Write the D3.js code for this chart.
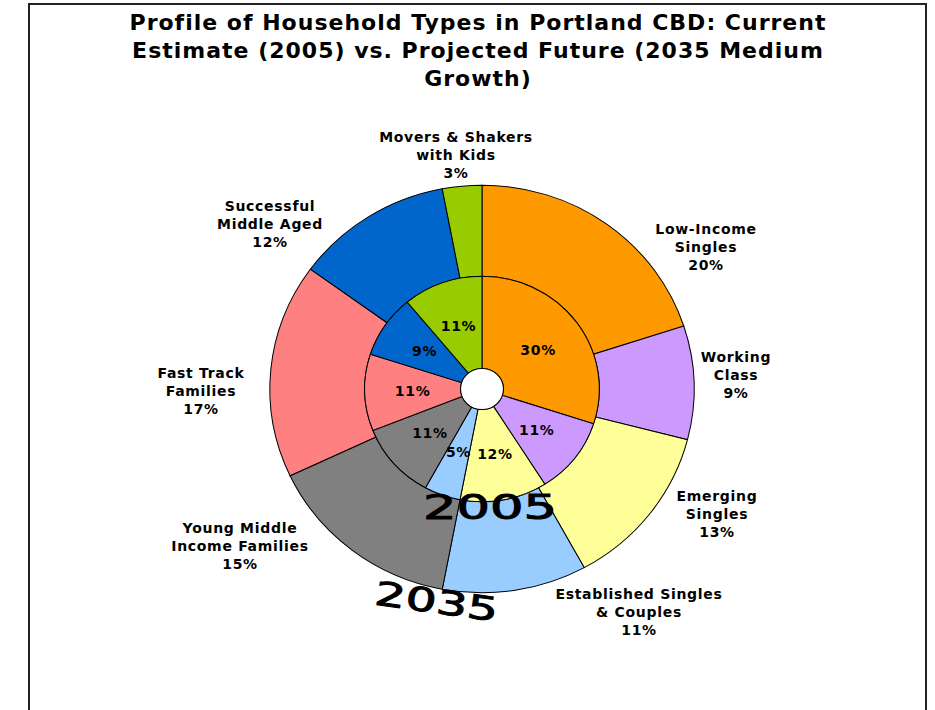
<!DOCTYPE html>
<html>
<head>
<meta charset="utf-8">
<script src="https://cdn.jsdelivr.net/npm/d3@7"></script>
<style>
  body { margin: 0; background: #fff; }
  svg text { font-family: "DejaVu Sans", Verdana, sans-serif; }
</style>
</head>
<body>
<div id="chart"></div>
<script>
// household types, clockwise from 12 o'clock
var categories = [
    ["Low-Income", "Singles"],
    ["Working", "Class"],
    ["Emerging", "Singles"],
    ["Established Singles", "& Couples"],
    ["Young Middle", "Income Families"],
    ["Fast Track", "Families"],
    ["Successful", "Middle Aged"],
    ["Movers & Shakers", "with Kids"]
];
var values2005 = [30, 11, 12, 5, 11, 11, 9, 11];
var values2035 = [20, 9, 13, 11, 15, 17, 12, 3];
var colors = ["#FF9900", "#CC99FF", "#FFFF99", "#99CCFF", "#808080", "#FF8080", "#0066CC", "#99CC00"];
var titleLines = [
    "Profile of Household Types in Portland CBD: Current",
    "Estimate (2005) vs. Projected Future (2035 Medium",
    "Growth)"
];
// where excel put the outer labels, relative to the pie centre
var labelOffsets = [[224, -142], [254, -14], [235, 125], [157, 223], [-242, 157], [-281, 2], [-212, -165], [-26, -234]];

var width = 935, height = 710;
var cx = 482, cy = 389;
var sx = 1.02, sy = 0.98;
var rHole = 21, rMid = 115, rOuter = 208;

var svg = d3.select("#chart").append("svg")
    .attr("width", width)
    .attr("height", height);

svg.append("rect")
    .attr("x", 29).attr("y", 4)
    .attr("width", 897).attr("height", height + 10)
    .attr("fill", "#fff")
    .attr("stroke", "#222")
    .attr("stroke-width", 2);

svg.append("g")
    .selectAll("text")
    .data(titleLines)
    .enter()
    .append("text")
    .attr("x", 478)
    .attr("y", (d, i) => 30 + i * 28)
    .attr("text-anchor", "middle")
    .attr("font-size", 22)
    .attr("font-weight", "bold")
    .attr("letter-spacing", 1)
    .text(d => d);

var pie = d3.pie().sort(null).value(d => d);
var inner = pie(values2005);
var outer = pie(values2035);

var arcOuter = d3.arc().innerRadius(rMid).outerRadius(rOuter);
var arcInner = d3.arc().innerRadius(rHole).outerRadius(rMid);

var g = svg.append("g")
    .attr("transform", `translate(${cx},${cy}) scale(${sx},${sy})`);

g.selectAll(".outer")
    .data(outer)
    .enter()
    .append("path")
    .attr("class", "outer")
    .attr("d", arcOuter)
    .attr("fill", (d, i) => colors[i])
    .attr("stroke", "#000")
    .attr("stroke-width", 1);

g.selectAll(".inner")
    .data(inner)
    .enter()
    .append("path")
    .attr("class", "inner")
    .attr("d", arcInner)
    .attr("fill", (d, i) => colors[i])
    .attr("stroke", "#000")
    .attr("stroke-width", 1);

g.append("circle")
    .attr("r", rHole)
    .attr("fill", "#fff")
    .attr("stroke", "#000")
    .attr("stroke-width", 1);

// inner ring percentages
svg.append("g")
    .selectAll("text")
    .data(inner)
    .enter()
    .append("text")
    .attr("x", d => cx + arcInner.centroid(d)[0] * sx)
    .attr("y", d => cy + arcInner.centroid(d)[1] * sy)
    .attr("dy", "0.35em")
    .attr("text-anchor", "middle")
    .attr("font-size", 14)
    .attr("font-weight", "bold")
    .attr("letter-spacing", 0.7)
    .text(d => d.data + "%");

// outer labels
var labels = svg.append("g")
    .selectAll("text")
    .data(outer)
    .enter()
    .append("text")
    .attr("text-anchor", "middle")
    .attr("font-size", 14)
    .attr("font-weight", "bold")
    .attr("letter-spacing", 0.7)
    .attr("transform", (d, i) => `translate(${cx + labelOffsets[i][0]},${cy + labelOffsets[i][1]})`);

labels.each(function(d, i) {
    var t = d3.select(this);
    var lines = categories[i].concat([d.data + "%"]);
    lines.forEach((s, k) => {
        t.append("tspan")
            .attr("x", 0)
            .attr("y", (k - 1) * 18)
            .attr("dy", "0.35em")
            .text(s);
    });
});

// year tags
svg.append("text")
    .attr("transform", "translate(490,519)")
    .attr("text-anchor", "middle")
    .attr("font-size", 33)
    .attr("stroke", "#000")
    .attr("stroke-width", 1)
    .attr("textLength", 134)
    .attr("lengthAdjust", "spacingAndGlyphs")
    .text("2005");

svg.append("text")
    .attr("transform", "translate(435,613) rotate(8)")
    .attr("text-anchor", "middle")
    .attr("font-size", 33)
    .attr("stroke", "#000")
    .attr("stroke-width", 1)
    .attr("textLength", 124)
    .attr("lengthAdjust", "spacingAndGlyphs")
    .text("2035");
</script>
</body>
</html>
